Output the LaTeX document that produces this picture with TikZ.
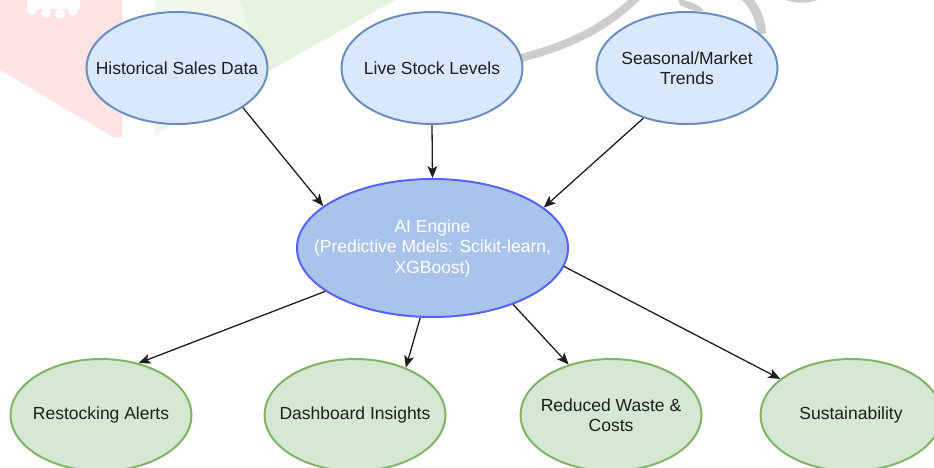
\documentclass[tikz,border=0pt]{standalone}
\usepackage{fontspec}
\setmainfont{Liberation Sans}
\usetikzlibrary{shapes.geometric,arrows.meta}

\definecolor{inFill}{HTML}{DAE8FC}
\definecolor{inLine}{HTML}{6C8EBF}
\definecolor{coreFill}{HTML}{A9C4EB}
\definecolor{coreLine}{HTML}{5564F5}
\definecolor{outFill}{HTML}{D5E8D4}
\definecolor{outLine}{HTML}{82B366}
\definecolor{ink}{HTML}{1E1E1E}
\definecolor{wmPink}{HTML}{FDE3E3}
\definecolor{wmGreenA}{HTML}{EFF8E9}
\definecolor{wmGreenB}{HTML}{E5F2DD}
\definecolor{wmGray}{HTML}{CDCDCD}

% negative inner sep keeps the ellipse at its minimum size regardless of text
\tikzset{
  bubble/.style={ellipse, minimum width=181pt, minimum height=112pt,
    inner sep=-45pt, align=center, line width=2pt, text=ink,
    font=\fontsize{17.5}{20.5}\selectfont},
  source/.style={bubble, draw=inLine, fill=inFill},
  result/.style={bubble, draw=outLine, fill=outFill},
  core/.style={bubble, draw=coreLine, fill=coreFill, text=white,
    minimum width=271pt, minimum height=138pt},
  flow/.style={draw=ink, line width=1.3pt,
    -{Stealth[length=12pt,width=10pt,inset=3pt]}},
}

\begin{document}
\begin{tikzpicture}[x=1pt,y=-1pt]
\useasboundingbox (0,0) rectangle (934,467);
\clip (0,0) rectangle (934,467);

% faint background marks
\fill[wmPink] (0,0) -- (122,0) -- (122,137) -- (113,137) -- (0,70) -- cycle;
\fill[white] (27,0) rectangle (80,9);
\foreach \cx/\cy in {32/10, 46/13, 60/14, 73/11} \fill[white] (\cx,\cy) circle (5);
\fill[wmGreenA] (155,0) -- (240,0) -- (262,75) -- (155,135) -- cycle;
\fill[wmGreenB] (240,0) -- (395,0) -- (262,75) -- cycle;
\draw[wmGray, line width=8pt] (505,62) .. controls (555,50) and (600,35) .. (640,-6);
\fill[wmGray] (678,-1) .. controls (690,1) and (700,5) .. (704,11)
  .. controls (697,13) and (686,8) .. (680,5) -- cycle;
\draw[wmGray, line width=9pt] (744,-4) .. controls (754,5) and (760,16) .. (762,34);
\fill[wmGray] (782,-1) .. controls (795,4) and (808,4) .. (820,-1) -- cycle;

% inputs
\node[source] (hist) at (177,68) {Historical Sales Data};
\node[source] (live) at (432,68) {Live Stock Levels};
\node[source] (trend) at (687,68) {Seasonal/Market\\Trends};

% model
\node[core] (ai) at (432.5,248) {AI Engine\\(Predictive Mdels: Scikit-learn,\\XGBoost)};

% outcomes
\node[result] (alert) at (101,415) {Restocking Alerts};
\node[result] (dash) at (355,415) {Dashboard Insights};
\node[result] (waste) at (611,415) {Reduced Waste \&\\Costs};
\node[result] (sust) at (851,415) {Sustainability};

% connectors
\draw[flow] (hist.-31) -- (ai.159);
\draw[flow] (live.south) -- (ai.north);
\draw[flow] (trend.229) -- (ai.20);
\draw[flow] (ai.202) -- (alert.54);
\draw[flow] (ai.260) -- (dash.43);
\draw[flow] (ai.-35) -- (waste.130);
\draw[flow] (ai.-8) -- (sust.153);
\end{tikzpicture}
\end{document}
